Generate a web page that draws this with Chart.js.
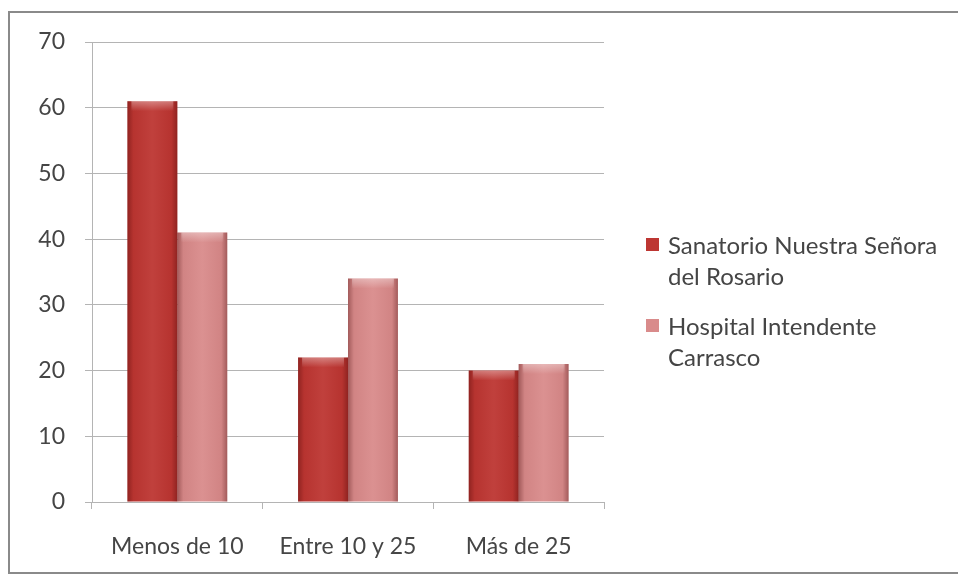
<!DOCTYPE html>
<html>
<head>
<meta charset="utf-8">
<script src="https://cdn.jsdelivr.net/npm/chart.js@4.4.0/dist/chart.umd.min.js"></script>
<style>
  html, body { margin: 0; padding: 0; background: #ffffff; }
  #wrap { position: relative; width: 958px; height: 578px; overflow: hidden; }
  #c { position: absolute; left: 0; top: 0; }
  #frame { position: absolute; left: 8px; top: 11px; width: 960px; height: 563px;
           border: 2px solid #8a8a8a; box-sizing: border-box; pointer-events: none; }
  #legend { position: absolute; left: 646px; top: 229px; font-family: Lato, "Open Sans", sans-serif;
            font-size: 24px; color: #454545; }
  .item { position: relative; padding-left: 22px; width: 285px; line-height: 31px; margin-bottom: 19px; }
  .sw { position: absolute; left: 0; top: 9px; width: 13px; height: 13px; }
</style>
</head>
<body>
<div id="wrap">
  <canvas id="c" width="958" height="578"></canvas>
  <div id="frame"></div>
  <div id="legend"></div>
</div>
<script>
const categories = ["Menos de 10", "Entre 10 y 25", "Más de 25"];
const seriesNames = ["Sanatorio Nuestra Señora del Rosario", "Hospital Intendente Carrasco"];
const sanatorioValues = [61, 22, 20];
const hospitalValues = [41, 34, 21];
const seriesColors = ["#bd3632", "#d98b8b"];
const yTicks = [0, 10, 20, 30, 40, 50, 60, 70];

const FONT = "Lato, 'Open Sans', sans-serif";

const bevelPlugin = {
  id: 'bevel',
  afterDatasetsDraw(chart) {
    const ctx = chart.ctx;
    chart.data.datasets.forEach((ds, di) => {
      const meta = chart.getDatasetMeta(di);
      meta.data.forEach(bar => {
        const left = bar.x - bar.width / 2;
        const right = bar.x + bar.width / 2;
        const top = Math.min(bar.y, bar.base);
        const bottom = Math.max(bar.y, bar.base);
        ctx.save();
        const g = ctx.createLinearGradient(left, 0, right, 0);
        g.addColorStop(0, 'rgba(60,0,0,0.35)');
        g.addColorStop(0.12, 'rgba(60,0,0,0.05)');
        g.addColorStop(0.5, 'rgba(255,255,255,0.05)');
        g.addColorStop(0.88, 'rgba(60,0,0,0.05)');
        g.addColorStop(1, 'rgba(60,0,0,0.35)');
        ctx.fillStyle = g;
        ctx.fillRect(left, top, right - left, bottom - top);
        const gt = ctx.createLinearGradient(0, top, 0, top + 10);
        gt.addColorStop(0, 'rgba(255,255,255,0.35)');
        gt.addColorStop(1, 'rgba(255,255,255,0)');
        ctx.fillStyle = gt;
        ctx.fillRect(left + 4, top, right - left - 8, 10);
        ctx.restore();
      });
    });
  }
};

const chart = new Chart(document.getElementById('c'), {
  type: 'bar',
  data: {
    labels: categories,
    datasets: [
      { label: seriesNames[0], data: sanatorioValues, backgroundColor: seriesColors[0], borderWidth: 0 },
      { label: seriesNames[1], data: hospitalValues, backgroundColor: seriesColors[1], borderWidth: 0 }
    ]
  },
  plugins: [bevelPlugin],
  options: {
    responsive: false,
    animation: false,
    devicePixelRatio: 1,
    categoryPercentage: 0.585,
    barPercentage: 1.0,
    layout: { padding: { left: 0, right: 354, top: 42, bottom: 0 } },
    plugins: { legend: { display: false }, tooltip: { enabled: false } },
    scales: {
      x: {
        grid: { offset: true, drawOnChartArea: false, color: '#b4b4b4', tickLength: 7 },
        border: { color: '#b4b4b4', width: 1 },
        ticks: { color: '#454545', font: { family: FONT, size: 23 }, padding: 24, maxRotation: 0 },
        afterFit(scale) { scale.height = 76; }
      },
      y: {
        min: 0, max: 70,
        afterBuildTicks(scale) { scale.ticks = yTicks.map(v => ({ value: v })); },
        grid: { color: '#b4b4b4', tickLength: 7 },
        border: { color: '#b4b4b4', width: 1 },
        ticks: { color: '#454545', font: { family: FONT, size: 23 }, padding: 20 },
        afterFit(scale) { scale.width = 92; }
      }
    }
  }
});

const legend = document.getElementById('legend');
seriesNames.forEach((name, i) => {
  const item = document.createElement('div');
  item.className = 'item';
  const sw = document.createElement('span');
  sw.className = 'sw';
  sw.style.background = seriesColors[i];
  item.appendChild(sw);
  item.appendChild(document.createTextNode(name));
  legend.appendChild(item);
});
</script>
</body>
</html>
